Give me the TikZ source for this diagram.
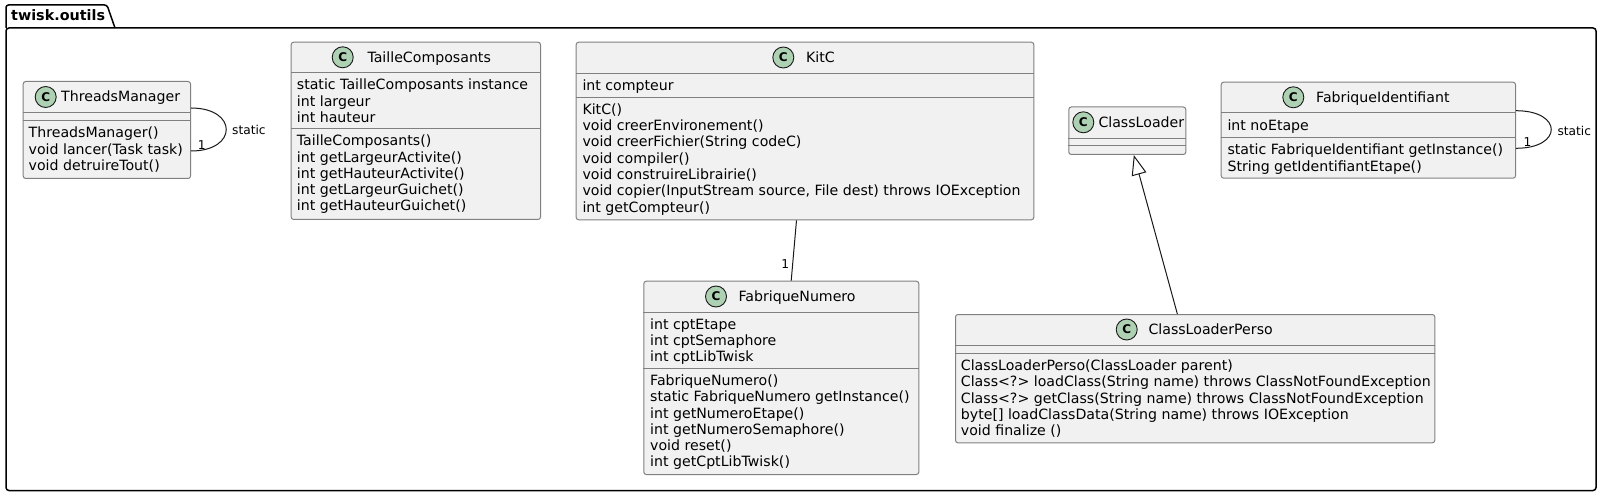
\documentclass[tikz,border=0pt]{standalone}
\usepackage{fontspec}
\setmainfont{DejaVu Sans}
\usetikzlibrary{arrows.meta}
\definecolor{boxfill}{HTML}{F1F1F1}
\definecolor{boxline}{HTML}{808080}
\definecolor{lineblack}{HTML}{181818}
\definecolor{circgreen}{HTML}{ADD1B2}
\newcommand\umlrows[4]{\foreach \t [count=\i] in {#4}{\node[row] (#1\i) at (#2,{#3+16.25*(\i-1)}) {\t};}}
\begin{document}
\begin{tikzpicture}[x=1pt,y=-1pt,
  cbox/.style={draw=boxline, fill=boxfill, line width=1pt, rounded corners=2.5pt, inner sep=0pt, anchor=north west},
  sepline/.style={draw=boxline, line width=1pt},
  circ/.style={circle, draw=lineblack, fill=circgreen, line width=0.9pt, minimum size=21pt, inner sep=0pt, font=\fontsize{12}{12}\selectfont\bfseries},
  cname/.style={inner sep=0pt, anchor=base west, font=\fontsize{14.15}{16}\selectfont},
  row/.style={inner sep=0pt, anchor=base west, font=\fontsize{14.15}{16}\selectfont},
  lbl/.style={inner sep=0pt, font=\fontsize{12.2}{14}\selectfont},
  conn/.style={draw=lineblack, line width=1pt},
  pkg/.style={draw=black, line width=1.5pt}]
\useasboundingbox (0,0) rectangle (1603,497);

% package
\draw[pkg, rounded corners=2.5pt] (6,28) -- (6,5) -- (107,5) -- (115,28);
\draw[pkg, rounded corners=3pt] (6,28) rectangle (1596,490.5);
\node[inner sep=0pt, anchor=base west, font=\fontsize{14.35}{16}\selectfont\bfseries] (pkgname) at (11,21) {twisk.outils};

% ThreadsManager
\node[cbox, minimum width=167.3pt, minimum height=97pt] (tm) at (22.7,81) {};
\draw[sepline] ([yshift=-32pt]tm.north west) -- ([yshift=-32pt]tm.north east);
\draw[sepline] ([yshift=-40pt]tm.north west) -- ([yshift=-40pt]tm.north east);
\node[circ] (tmc) at (45.7,97) {C};
\node[cname] (tmn) at (61,102) {ThreadsManager};
\umlrows{tmm}{28.5}{138}{ThreadsManager(), void lancer(Task task), void detruireTout()}

% TailleComposants
\node[cbox, minimum width=249.3pt, minimum height=177.3pt] (tc) at (290.7,41.7) {};
\draw[sepline] ([yshift=-31.3pt]tc.north west) -- ([yshift=-31.3pt]tc.north east);
\draw[sepline] ([yshift=-87.3pt]tc.north west) -- ([yshift=-87.3pt]tc.north east);
\node[circ] (tcc) at (342.7,57.3) {C};
\node[cname] (tcn) at (367.3,62.3) {TailleComposants};
\umlrows{tca}{296.7}{90}{static TailleComposants instance, int largeur, int hauteur}
\umlrows{tcm}{296.7}{146}{TailleComposants(), int getLargeurActivite(), int getHauteurActivite(), int getLargeurGuichet(), int getHauteurGuichet()}

% KitC
\node[cbox, minimum width=457.6pt, minimum height=177.6pt] (kc) at (575.7,41.7) {};
\draw[sepline] ([yshift=-31.6pt]kc.north west) -- ([yshift=-31.6pt]kc.north east);
\draw[sepline] ([yshift=-56pt]kc.north west) -- ([yshift=-56pt]kc.north east);
\node[circ] (kcc) at (783.3,57.5) {C};
\node[cname] (kcn) at (806,62.5) {KitC};
\umlrows{kca}{582.3}{90.5}{int compteur}
\umlrows{kcm}{582.3}{114.5}{KitC(), void creerEnvironement(), void creerFichier(String codeC), void compiler(), void construireLibrairie(), {void copier(InputStream source, File dest) throws IOException}, int getCompteur()}

% FabriqueNumero
\node[cbox, minimum width=275pt, minimum height=193.3pt] (fn) at (643.3,280.7) {};
\draw[sepline] ([yshift=-31.6pt]fn.north west) -- ([yshift=-31.6pt]fn.north east);
\draw[sepline] ([yshift=-87.6pt]fn.north west) -- ([yshift=-87.6pt]fn.north east);
\node[circ] (fnc) at (716,296.5) {C};
\node[cname] (fnn) at (738.3,301.5) {FabriqueNumero};
\umlrows{fna}{650}{329}{int cptEtape, int cptSemaphore, int cptLibTwisk}
\umlrows{fnm}{650}{385.5}{FabriqueNumero(), static FabriqueNumero getInstance(), int getNumeroEtape(), int getNumeroSemaphore(), void reset(), int getCptLibTwisk()}

% ClassLoader
\node[cbox, minimum width=117pt, minimum height=47.5pt] (cl) at (1068.3,106.5) {};
\draw[sepline] ([yshift=-31.8pt]cl.north west) -- ([yshift=-31.8pt]cl.north east);
\draw[sepline] ([yshift=-39.5pt]cl.north west) -- ([yshift=-39.5pt]cl.north east);
\node[circ] (clc) at (1083.3,122.3) {C};
\node[cname] (cln) at (1098.3,127.5) {ClassLoader};

% FabriqueIdentifiant
\node[cbox, minimum width=294.3pt, minimum height=96pt] (fi) at (1220.7,81.7) {};
\draw[sepline] ([yshift=-31pt]fi.north west) -- ([yshift=-31pt]fi.north east);
\draw[sepline] ([yshift=-56pt]fi.north west) -- ([yshift=-56pt]fi.north east);
\node[circ] (fic) at (1293.3,97.3) {C};
\node[cname] (fin) at (1316,102.3) {FabriqueIdentifiant};
\umlrows{fia}{1227.3}{130.5}{int noEtape}
\umlrows{fim}{1227.3}{155}{static FabriqueIdentifiant getInstance(), String getIdentifiantEtape()}

% ClassLoaderPerso
\node[cbox, minimum width=479.3pt, minimum height=128.3pt] (clp) at (955,314) {};
\draw[sepline] ([yshift=-31.7pt]clp.north west) -- ([yshift=-31.7pt]clp.north east);
\draw[sepline] ([yshift=-39.3pt]clp.north west) -- ([yshift=-39.3pt]clp.north east);
\node[circ] (clpc) at (1126.7,329.5) {C};
\node[cname] (clpn) at (1148.3,334.5) {ClassLoaderPerso};
\umlrows{clpm}{960.7}{370.5}{ClassLoaderPerso(ClassLoader parent), Class<?> loadClass(String name) throws ClassNotFoundException, Class<?> getClass(String name) throws ClassNotFoundException, byte[] loadClassData(String name) throws IOException, void finalize ()}

% connectors
\draw[conn] ([yshift=-27pt]tm.north east) .. controls +(47,0) and +(47,0) .. ([yshift=-70pt]tm.north east);
\node[lbl, anchor=base west] (tmstatic) at (232,135) {static};
\node[lbl] (tmone) at (201.7,145.3) {1};

\draw[conn] ([yshift=-29pt]fi.north east) .. controls +(47,0) and +(47,0) .. ([yshift=-66.6pt]fi.north east);
\node[lbl, anchor=base west] (fistatic) at (1557.3,135.5) {static};
\node[lbl] (fione) at (1527.5,142) {1};

\draw[conn] ([xshift=-8.5pt]kc.south) -- ([xshift=9.9pt]fn.north);
\node[lbl] (fnone) at (785.3,264.5) {1};

\draw[conn, -{Triangle[open, length=20pt, width=15pt]}] ([xshift=-17.8pt]clp.north) -- ([xshift=6.5pt]cl.south);
\end{tikzpicture}
\end{document}
